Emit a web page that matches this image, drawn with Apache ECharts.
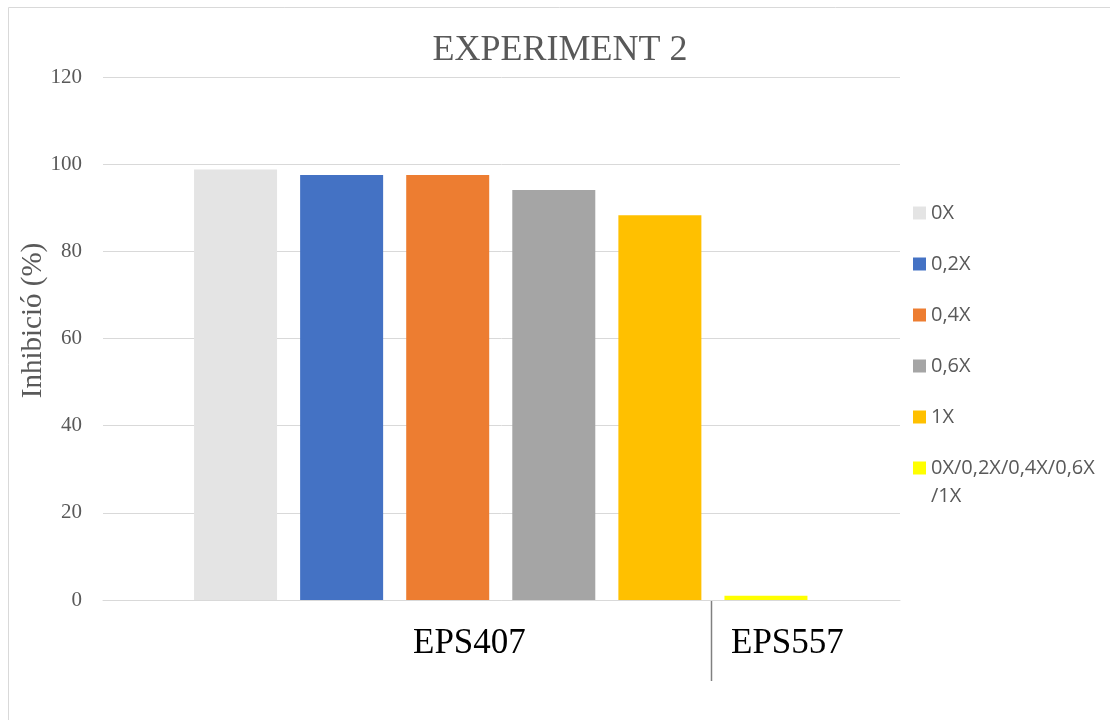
<!DOCTYPE html>
<html>
<head>
<meta charset="utf-8">
<script src="https://cdn.jsdelivr.net/npm/echarts@6/dist/echarts.min.js"></script>
<style>
  html, body { margin: 0; padding: 0; background: #fff; }
  #main { width: 1110px; height: 720px; }
</style>
</head>
<body>
<div id="main"></div>
<script>
var seriesNames = ['0X', '0,2X', '0,4X', '0,6X', '1X', '0X/0,2X/0,4X/0,6X/1X'];
var values = [98.8, 97.5, 97.5, 94.1, 88.3, 1.0];
var colors = ['#e4e4e4', '#4472c4', '#ed7d31', '#a5a5a5', '#ffc000', '#ffff00'];
var groupLabels = ['EPS407', 'EPS557'];
var yMin = 0, yMax = 120, yStep = 20;

var chart = echarts.init(document.getElementById('main'));

var serif = 'Liberation Serif';
var wrapAt = 17;

// one series per bar, each only filled in its own slot
var series = seriesNames.map(function (name, i) {
    var data = values.map(function (v, j) { return j === i ? v : '-'; });
    return {
        name: name,
        type: 'bar',
        stack: 'all',
        xAxisIndex: 1,
        yAxisIndex: 1,
        barWidth: 83,
        itemStyle: { color: colors[i] },
        data: data
    };
});

// the long legend entry wraps; excel keeps the swatch on the first line
var longName = seriesNames[seriesNames.length - 1];

var option = {
    animation: false,
    color: colors,
    title: {
        text: 'EXPERIMENT 2',
        left: 555,
        top: 28,
        textAlign: 'center',
        textStyle: { fontFamily: serif, fontSize: 36, fontWeight: 'normal', color: '#595959' }
    },
    legend: {
        orient: 'vertical',
        left: 913,
        top: 199.5,
        padding: 0,
        icon: 'rect',
        itemWidth: 13,
        itemHeight: 13,
        itemGap: 24,
        data: seriesNames,
        formatter: function (name) {
            return name.slice(0, wrapAt);
        },
        textStyle: { fontFamily: 'Open Sans', fontSize: 20, lineHeight: 27, color: '#595959' }
    },
    grid: [
        { left: 103, right: 210, top: 77, bottom: 120 },
        { left: 182.5, right: 291, top: 77, bottom: 120 }
    ],
    xAxis: [
        {
            type: 'category',
            gridIndex: 0,
            data: [''],
            axisLine: { lineStyle: { color: '#d9d9d9', width: 1 } },
            axisTick: { show: false },
            axisLabel: { show: false }
        },
        {
            type: 'category',
            gridIndex: 1,
            data: seriesNames,
            axisLine: { show: false },
            axisTick: { show: false },
            axisLabel: { show: false }
        }
    ],
    yAxis: [
        {
            type: 'value',
            gridIndex: 0,
            min: yMin,
            max: yMax,
            interval: yStep,
            name: 'Inhibició (%)',
            nameLocation: 'middle',
            nameGap: 55,
            nameMoveOverlap: false,
            nameTextStyle: { fontFamily: serif, fontSize: 29, color: '#595959', padding: [0, 0, 0, 36] },
            axisLine: { show: false },
            axisTick: { show: false },
            axisLabel: { fontFamily: serif, fontSize: 21, color: '#595959', margin: 21 },
            splitLine: { lineStyle: { color: '#d9d9d9', width: 1 } }
        },
        {
            type: 'value',
            gridIndex: 1,
            min: yMin,
            max: yMax,
            interval: yStep,
            show: false,
            splitLine: { show: false }
        }
    ],
    graphic: [
        {
            type: 'rect',
            shape: { x: 8.5, y: 7.5, width: 1200, height: 800 },
            style: { fill: null, stroke: '#d9d9d9', lineWidth: 1 },
            silent: true
        },
        {
            type: 'line',
            shape: { x1: 711.5, y1: 600, x2: 711.5, y2: 681 },
            style: { stroke: '#808080', lineWidth: 1.5 },
            silent: true
        },
        {
            type: 'text',
            left: 413,
            top: 626,
            style: { text: groupLabels[0], font: '35px "Liberation Serif"', fill: '#000' }
        },
        {
            type: 'text',
            left: 731,
            top: 626,
            style: { text: groupLabels[1], font: '35px "Liberation Serif"', fill: '#000' }
        },
        {
            type: 'text',
            left: 931,
            top: 486,
            style: { text: longName.slice(wrapAt), font: '20px "Open Sans"', fill: '#595959' }
        }
    ],
    series: series
};

chart.setOption(option);

window.onresize = chart.resize;
</script>
</body>
</html>
